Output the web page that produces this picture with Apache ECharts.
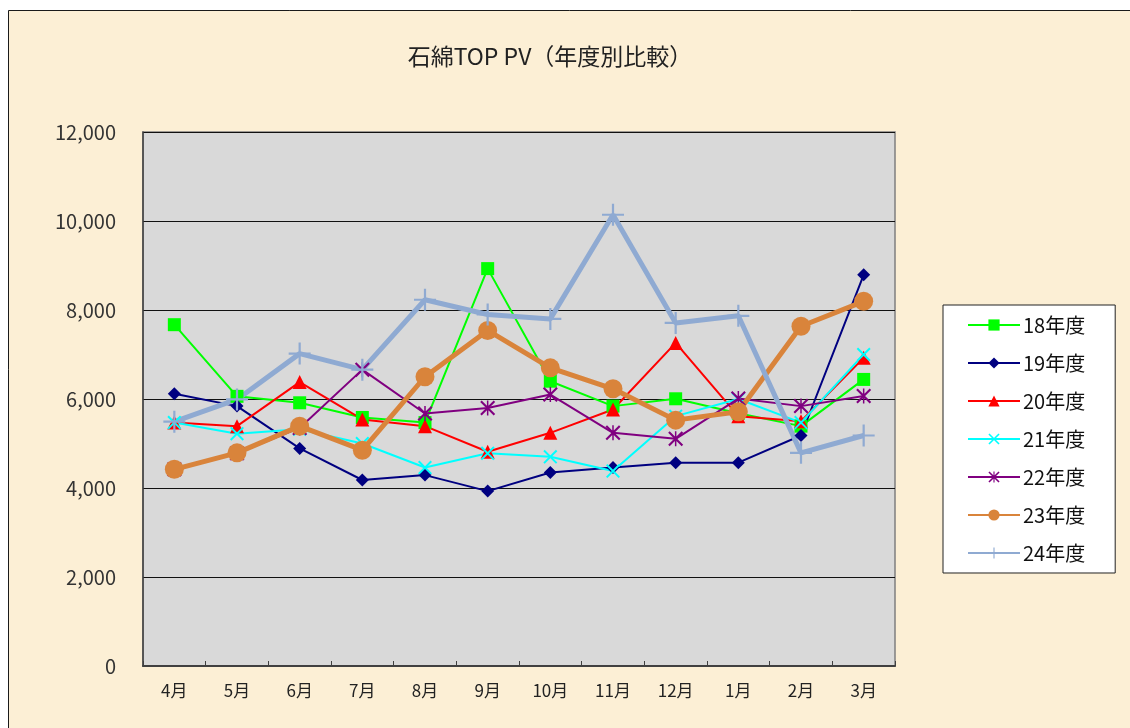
<!DOCTYPE html>
<html>
<head>
<meta charset="utf-8">
<script src="https://cdn.jsdelivr.net/npm/echarts@6/dist/echarts.min.js"></script>
<style>
  html, body { margin: 0; padding: 0; background: #ffffff; }
  #chart { width: 1130px; height: 728px; }
</style>
</head>
<body>
<div id="chart"></div>
<script>
// 月別カテゴリ（年度は4月始まり）
const months = ['4月', '5月', '6月', '7月', '8月', '9月', '10月', '11月', '12月', '1月', '2月', '3月'];

// 年度ごとのページビュー
const fy18 = [7670, 6060, 5915, 5585, 5470, 8930, 6400, 5840, 6005, 5680, 5390, 6440];
const fy19 = [6120, 5840, 4890, 4180, 4290, 3930, 4350, 4460, 4570, 4570, 5180, 8790];
const fy20 = [5470, 5390, 6380, 5540, 5390, 4815, 5240, 5765, 7260, 5615, 5500, 6925];
const fy21 = [5470, 5220, 5320, 5000, 4460, 4780, 4700, 4380, 5615, 6000, 5470, 7000];
const fy22 = [4420, 4780, 5350, 6660, 5675, 5800, 6100, 5240, 5105, 6010, 5840, 6065];
const fy23 = [4420, 4790, 5390, 4850, 6500, 7540, 6700, 6230, 5525, 5715, 7635, 8195];
const fy24 = [5490, 5990, 7020, 6660, 8230, 7900, 7800, 10140, 7710, 7870, 4790, 5180];

const yTicks = { min: 0, max: 12000, interval: 2000 };

// マーカー形状
const SYM_CROSS = 'path://M0,1L1,0L10,9L9,10ZM9,0L10,1L1,10L0,9Z';
const SYM_STAR = 'path://M0,1L1,0L10,9L9,10ZM9,0L10,1L1,10L0,9ZM4.5,0H5.5V10H4.5Z';
const SYM_PLUS = 'path://M4.5,0H5.5V4.5H10V5.5H5.5V10H4.5V5.5H0V4.5H4.5Z';

function line(name, data, color, width, symbol, size) {
  return {
    name: name,
    type: 'line',
    data: data,
    symbol: symbol,
    symbolSize: size,
    showAllSymbol: true,
    lineStyle: { color: color, width: width },
    itemStyle: { color: color },
    emphasis: { disabled: true },
    animation: false
  };
}

const chart = echarts.init(document.getElementById('chart'), null, { renderer: 'canvas' });

chart.setOption({
  animation: false,
  backgroundColor: '#ffffff',
  graphic: [
    {
      type: 'rect',
      z: -10,
      shape: { x: 8.5, y: 10.5, width: 1200, height: 800 },
      style: { fill: '#fcefd5', stroke: '#1a1a1a', lineWidth: 1 }
    }
  ],
  title: {
    text: '石綿TOP PV（年度別比較）',
    left: 545,
    top: 40,
    textAlign: 'center',
    textStyle: {
      fontFamily: 'Noto Sans CJK JP',
      fontSize: 23,
      fontWeight: 'normal',
      color: '#222'
    }
  },
  grid: {
    left: 143,
    right: 235,
    top: 132,
    bottom: 62,
    show: true,
    backgroundColor: '#d9d9d9',
    borderColor: '#7f7f7f',
    borderWidth: 1.5
  },
  legend: {
    orient: 'vertical',
    left: 943,
    top: 305,
    padding: [10, 30, 10, 24],
    itemWidth: 52,
    itemHeight: 14,
    itemGap: 18,
    backgroundColor: '#ffffff',
    borderColor: '#222',
    borderWidth: 1,
    textStyle: {
      fontFamily: 'Noto Sans CJK JP',
      fontSize: 20,
      color: '#111',
      padding: [0, 0, 0, -2]
    },
    data: ['18年度', '19年度', '20年度', '21年度', '22年度', '23年度', '24年度']
  },
  xAxis: {
    type: 'category',
    data: months,
    boundaryGap: true,
    axisLine: { lineStyle: { color: '#404040', width: 2 } },
    axisTick: { show: true, inside: true, length: 5, lineStyle: { color: '#404040', width: 1 } },
    axisLabel: {
      fontFamily: 'Noto Sans CJK JP',
      fontSize: 17,
      color: '#222',
      margin: 16
    },
    splitLine: { show: false }
  },
  yAxis: {
    type: 'value',
    min: yTicks.min,
    max: yTicks.max,
    interval: yTicks.interval,
    axisLine: { show: true, lineStyle: { color: '#404040', width: 1.5 } },
    axisTick: { show: false },
    axisLabel: {
      fontFamily: 'Noto Sans CJK JP',
      fontSize: 20,
      color: '#333',
      margin: 27,
      formatter: v => v.toLocaleString('en-US')
    },
    splitLine: { show: true, lineStyle: { color: '#111', width: 1 } }
  },
  series: [
    line('18年度', fy18, '#00ff00', 2, 'rect', 13),
    line('19年度', fy19, '#000080', 2, 'diamond', 13),
    line('20年度', fy20, '#ff0000', 2, 'triangle', 14),
    line('21年度', fy21, '#00ffff', 2, SYM_CROSS, 14),
    line('22年度', fy22, '#800080', 2, SYM_STAR, 15),
    line('23年度', fy23, '#d9843b', 5, 'circle', 19),
    line('24年度', fy24, '#8faad2', 5, SYM_PLUS, 22)
  ]
});
</script>
</body>
</html>
